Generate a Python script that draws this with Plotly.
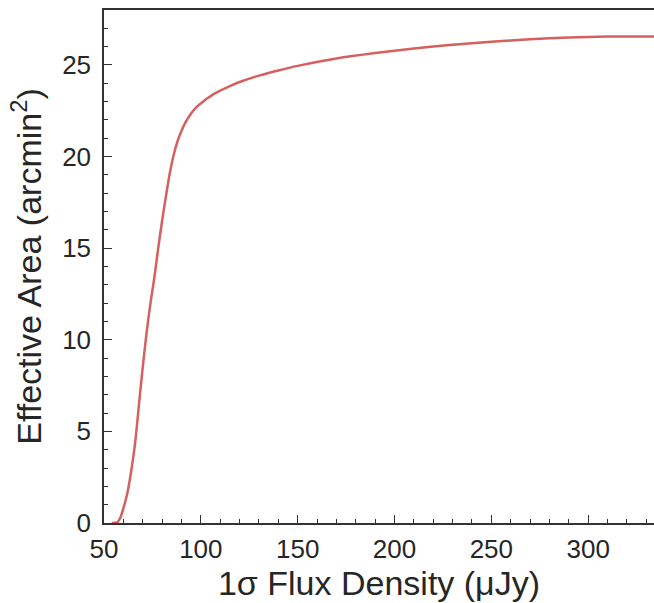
import plotly.graph_objects as go

flux = [54, 57, 58.5, 60, 62, 64, 66, 68, 70, 72, 74, 76, 78, 80, 82, 84, 86, 88,
        90, 92, 95, 98, 100, 103, 106, 110, 115, 120, 130, 140, 150, 170, 190, 210, 230, 250,
        270, 290, 310, 334]
area = [0, 0.05, 0.3, 0.8, 1.6, 2.8, 4.3, 6.4, 8.5, 10.4, 12.0, 13.4, 15.0, 16.5,
        17.85, 19.1, 20.1, 20.85, 21.4, 21.85, 22.35, 22.72, 22.9, 23.15, 23.37, 23.6, 23.85, 24.07,
        24.42, 24.7, 24.95, 25.35, 25.65, 25.9, 26.1, 26.27, 26.4, 26.5, 26.55, 26.56]

xticks = [50, 100, 150, 200, 250, 300]
yticks = [0, 5, 10, 15, 20, 25]

axcol = "#333333"
font = "Liberation Sans, Arial, sans-serif"

fig = go.Figure()
fig.add_trace(go.Scatter(x=flux, y=area, mode="lines",
                         line=dict(color="#d65f5f", width=2.5, shape="spline", smoothing=0.6),
                         showlegend=False, hoverinfo="skip"))

fig.update_layout(
    width=654, height=603,
    margin=dict(l=104, r=0, t=10, b=80),
    paper_bgcolor="white", plot_bgcolor="white",
    font=dict(family=font, color="#262626"),
    xaxis=dict(range=[50, 334], tickvals=xticks, ticks="inside", ticklen=8, tickwidth=1.3,
               tickcolor=axcol, showline=True, linecolor=axcol, linewidth=1.5, mirror=True,
               showgrid=False, zeroline=False, tickfont=dict(size=26, family=font),
               ticklabelstandoff=2,
               minor=dict(dtick=10, ticks="inside", ticklen=4, tickcolor=axcol, tickwidth=1, showgrid=False),
               title=dict(text="1σ Flux Density (μJy)", font=dict(size=34, family=font), standoff=3)),
    yaxis=dict(range=[0, 28], tickvals=yticks, ticks="inside", ticklen=8, tickwidth=1.3,
               tickcolor=axcol, showline=True, linecolor=axcol, linewidth=1.5,
               showgrid=False, zeroline=False, tickfont=dict(size=26, family=font),
               ticklabelstandoff=6,
               minor=dict(dtick=1, ticks="inside", ticklen=4, tickcolor=axcol, tickwidth=1, showgrid=False),
               title=dict(text="Effective Area (arcmin<sup>2</sup>)", font=dict(size=34, family=font), standoff=10)),
)

fig.write_html("out.html")
